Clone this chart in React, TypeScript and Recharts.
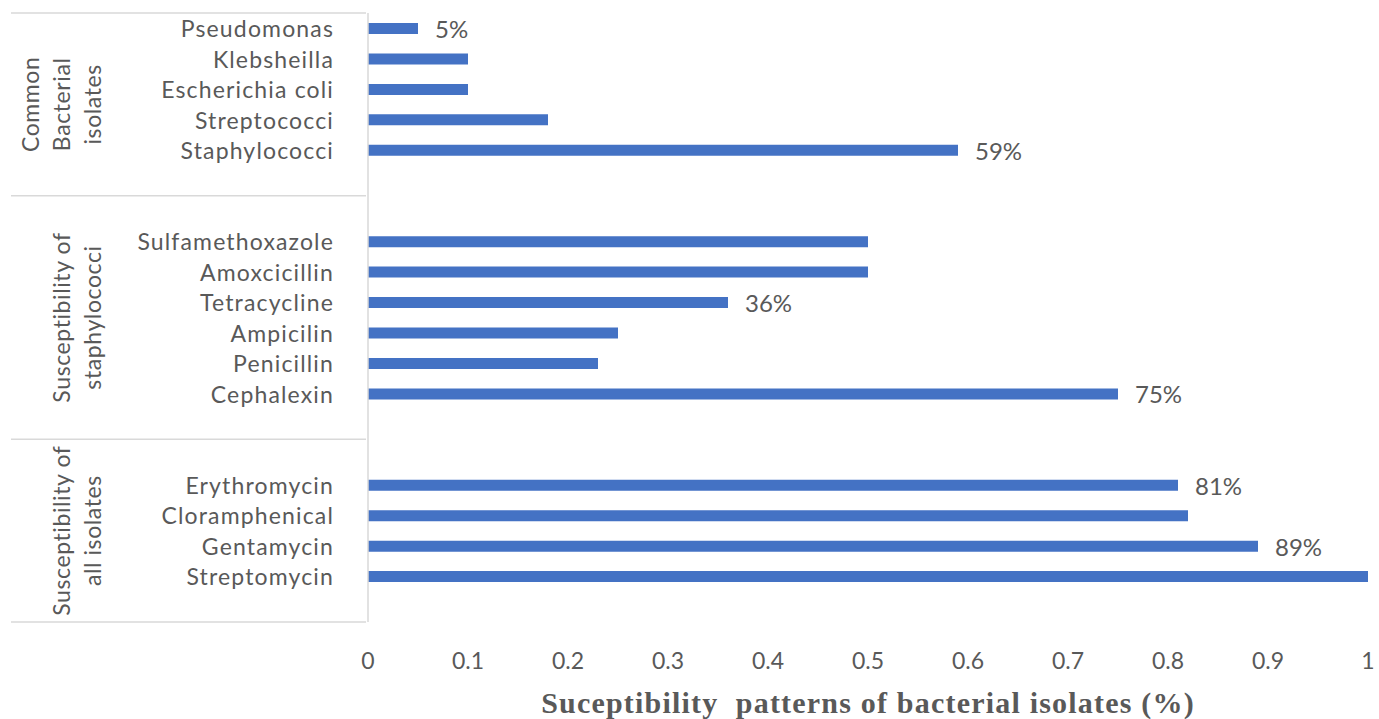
import React from 'react';
import { BarChart, Bar, XAxis, YAxis, LabelList } from 'recharts';

// ---- data ----
const commonIsolates = ['Pseudomonas', 'Klebsheilla', 'Escherichia coli', 'Streptococci', 'Staphylococci'];
const commonValues = [0.05, 0.1, 0.1, 0.18, 0.59];

const staphDrugs = ['Sulfamethoxazole', 'Amoxcicillin', 'Tetracycline', 'Ampicilin', 'Penicillin', 'Cephalexin'];
const staphValues = [0.5, 0.5, 0.36, 0.25, 0.23, 0.75];

const allDrugs = ['Erythromycin', 'Cloramphenical', 'Gentamycin', 'Streptomycin'];
const allValues = [0.81, 0.82, 0.89, 1.0];

const labeledBars = ['Pseudomonas', 'Staphylococci', 'Tetracycline', 'Cephalexin', 'Erythromycin', 'Gentamycin'];

const groupTitles = [
  ['Common', 'Bacterial', 'isolates'],
  ['Susceptibility of', 'staphylococci'],
  ['Susceptibility of', 'all isolates'],
];

const xTicks = [0, 0.1, 0.2, 0.3, 0.4, 0.5, 0.6, 0.7, 0.8, 0.9, 1];

const axisTitle = 'Suceptibility  patterns of bacterial isolates (%)';

// ---- layout ----
const W = 1379;
const H = 719;
const M_TOP = 13;
const M_RIGHT = 11;
const M_BOTTOM = 47;
const XAXIS_H = 50;
const YAXIS_W = 368;
const TEXT = '#595959';
const GRID = '#d9d9d9';
const BAR = '#4472C4';
const FONT = 'Lato, "Noto Sans", sans-serif';
const FS = 23;

// spacer rows before / after each group (Excel multi-level layout)
const groupSpacers = [
  [0, 1],
  [1, 1],
  [1, 1],
];
const groups = [
  { names: commonIsolates, values: commonValues },
  { names: staphDrugs, values: staphValues },
  { names: allDrugs, values: allValues },
];

type Row = {
  key: string;
  name: string;
  value: number | null;
  label?: string;
  group: number;
  groupStart: boolean;
  groupRows: number;
  last: boolean;
};

const rows: Row[] = [];
groups.forEach((g, gi) => {
  const [lead, trail] = groupSpacers[gi];
  const n = lead + g.names.length + trail;
  const items: { name: string; value: number | null }[] = [];
  for (let i = 0; i < lead; i++) items.push({ name: '', value: null });
  g.names.forEach((nm, i) => items.push({ name: nm, value: g.values[i] }));
  for (let i = 0; i < trail; i++) items.push({ name: '', value: null });
  items.forEach((it, i) => {
    rows.push({
      key: `r${rows.length}`,
      name: it.name,
      value: it.value,
      label: it.value != null && labeledBars.includes(it.name) ? `${Math.round(it.value * 100)}%` : undefined,
      group: gi,
      groupStart: i === 0,
      groupRows: n,
      last: gi === groups.length - 1 && i === items.length - 1,
    });
  });
});

const BAND = (H - M_TOP - M_BOTTOM - XAXIS_H) / rows.length;

function CategoryTick(props: any) {
  const { y, payload } = props;
  const row = rows.find((r) => r.key === payload.value);
  if (!row) return null;
  const axisX = YAXIS_W;
  const els: React.ReactNode[] = [];
  if (row.name) {
    els.push(
      <text key="t" x={axisX - 34} y={y} textAnchor="end" dominantBaseline="central" fill={TEXT} fontSize={FS} letterSpacing={1.15} fontFamily={FONT}>
        {row.name}
      </text>
    );
  }
  if (row.groupStart) {
    const top = y - BAND / 2;
    els.push(<line key="l" x1={11} x2={axisX - 2} y1={top} y2={top} stroke={GRID} strokeWidth={1.5} />);
    const cy = top + (row.groupRows * BAND) / 2;
    const lines = groupTitles[row.group];
    lines.forEach((ln, i) => {
      const lx = 92 - (lines.length - 1 - i) * 31;
      els.push(
        <text
          key={`g${i}`}
          x={lx}
          y={cy}
          textAnchor="middle"
          dominantBaseline="central"
          transform={`rotate(-90, ${lx}, ${cy})`}
          fill={TEXT}
          fontSize={FS}
          letterSpacing={0.6}
          fontFamily={FONT}
        >
          {ln}
        </text>
      );
    });
  }
  if (row.last) {
    const bottom = y + BAND / 2;
    els.push(<line key="lb" x1={11} x2={axisX - 2} y1={bottom} y2={bottom} stroke={GRID} strokeWidth={1.5} />);
  }
  return <g>{els}</g>;
}

function ValueTick(props: any) {
  const { x, y, payload } = props;
  return (
    <text x={x} y={y + 38} textAnchor="middle" dominantBaseline="central" fill={TEXT} fontSize={FS} fontFamily={FONT}>
      {String(payload.value)}
    </text>
  );
}

function BarLabel(props: any) {
  const { x, y, width, height, value } = props;
  if (!value) return null;
  return (
    <text x={x + width + 17} y={y + height / 2} dominantBaseline="central" fill={TEXT} fontSize={FS + 1} fontFamily={FONT}>
      {value}
    </text>
  );
}

export default function App() {
  return (
    <div style={{ position: 'absolute', left: 0, top: 0, width: W, height: H, background: '#fff' }}>
      <BarChart
        width={W}
        height={H}
        data={rows}
        layout="vertical"
        margin={{ top: M_TOP, right: M_RIGHT, bottom: M_BOTTOM, left: 0 }}
        barCategoryGap={0}
      >
        <XAxis
          type="number"
          domain={[0, 1]}
          ticks={xTicks}
          height={XAXIS_H}
          tickLine={false}
          axisLine={false}
          tickSize={0}
          tickMargin={0}
          tick={<ValueTick />}
          interval={0}
        />
        <YAxis
          type="category"
          dataKey="key"
          width={YAXIS_W}
          interval={0}
          tickLine={false}
          axisLine={{ stroke: GRID, strokeWidth: 1.5 }}
          tickSize={0}
          tickMargin={0}
          tick={<CategoryTick />}
        />
        <Bar dataKey="value" fill={BAR} barSize={11} isAnimationActive={false}>
          <LabelList dataKey="label" content={<BarLabel />} />
        </Bar>
      </BarChart>
      <div
        style={{
          position: 'absolute',
          left: YAXIS_W,
          width: W - YAXIS_W - M_RIGHT,
          top: 686,
          textAlign: 'center',
          fontFamily: '"Liberation Serif", "Times New Roman", serif',
          fontWeight: 'bold',
          fontSize: 30,
          letterSpacing: 1.2,
          color: TEXT,
          whiteSpace: 'pre',
          lineHeight: '34px',
        }}
      >
        {axisTitle}
      </div>
    </div>
  );
}
